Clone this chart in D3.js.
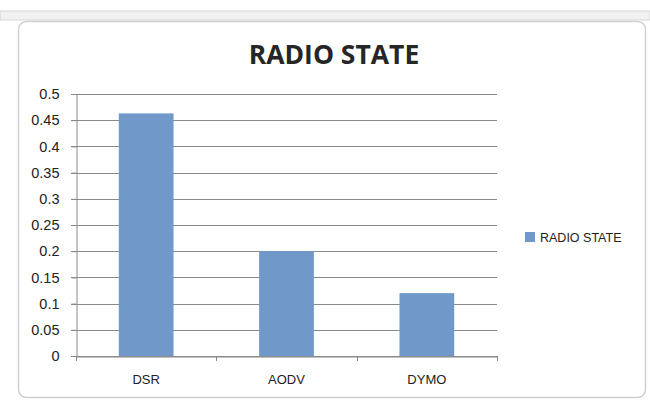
<!DOCTYPE html>
<html>
<head>
<meta charset="utf-8">
<script src="https://cdn.jsdelivr.net/npm/d3@7/dist/d3.min.js"></script>
<style>
  html, body { margin: 0; padding: 0; background: #fff; }
  svg { display: block; }
  text { font-family: "Liberation Sans Narrow", "Open Sans", "DejaVu Sans Condensed", sans-serif; }
</style>
</head>
<body>
<svg id="chart" width="650" height="403"></svg>
<script>
// Radio state values per routing protocol
const categories = ["DSR", "AODV", "DYMO"];
const radioState = [0.463, 0.2, 0.12];
const yTicks = [0, 0.05, 0.1, 0.15, 0.2, 0.25, 0.3, 0.35, 0.4, 0.45, 0.5];
const seriesName = "RADIO STATE";
const chartTitle = "RADIO STATE";

const svg = d3.select("#chart");
const W = 650, H = 403;

// spreadsheet header strip behind the chart object
svg.append("rect").attr("x", 0).attr("y", 11).attr("width", W).attr("height", 9)
  .attr("fill", "#f1f1f1").attr("stroke", "#d6d6d6");

// chart object frame
svg.append("rect").attr("x", 18.5).attr("y", 21.5).attr("width", 627).attr("height", 376)
  .attr("rx", 8).attr("fill", "#fff").attr("stroke", "#cfcfcf").attr("stroke-width", 1.5);

const plot = { left: 76, right: 497, top: 94, bottom: 356 };

const x = d3.scaleBand().domain(categories).range([plot.left, plot.right])
  .paddingInner(0.61).paddingOuter(0.305);
const xOuter = d3.scaleBand().domain(categories).range([plot.left, plot.right]);
const y = d3.scaleLinear().domain([0, 0.5]).range([plot.bottom, plot.top]);

// horizontal gridlines
svg.append("g").selectAll("line").data(yTicks).join("line")
  .attr("x1", plot.left - 5).attr("x2", plot.right)
  .attr("y1", d => Math.round(y(d)) + 0.5).attr("y2", d => Math.round(y(d)) + 0.5)
  .attr("stroke", "#8a8a8a").attr("stroke-width", 1);

// value axis
const yAxis = svg.append("g").attr("transform", `translate(${plot.left + 0.5},0)`)
  .call(d3.axisLeft(y).tickValues(yTicks).tickSize(5).tickPadding(12)
    .tickFormat(d => d3.format("")(+d.toFixed(2))));
yAxis.select(".domain").attr("stroke", "#8a8a8a");
yAxis.selectAll(".tick line").attr("stroke", "#8a8a8a");
yAxis.selectAll(".tick text").attr("fill", "#222").attr("font-size", 14.5)
  .style("font-family", "'Liberation Sans', 'Open Sans', sans-serif");

// bars
svg.append("g").selectAll("rect").data(radioState).join("rect")
  .attr("x", (d, i) => x(categories[i]))
  .attr("width", x.bandwidth())
  .attr("y", d => y(d))
  .attr("height", d => y(0) - y(d))
  .attr("fill", "#7099c9");

// category axis
const xAxis = svg.append("g").attr("transform", `translate(0,${plot.bottom + 0.5})`)
  .call(d3.axisBottom(xOuter).tickSize(0).tickPadding(18));
xAxis.select(".domain").attr("stroke", "#8a8a8a");
xAxis.selectAll(".tick text").attr("fill", "#222").attr("font-size", 13)
  .style("font-family", "'Liberation Sans', 'Open Sans', sans-serif");
// category separators
svg.append("g").selectAll("line")
  .data(categories.map(c => xOuter(c)).concat([plot.right]))
  .join("line")
  .attr("x1", d => Math.round(d) + 0.5).attr("x2", d => Math.round(d) + 0.5)
  .attr("y1", plot.bottom).attr("y2", plot.bottom + 5)
  .attr("stroke", "#8a8a8a");

// title
svg.append("text").attr("x", 334).attr("y", 64).attr("text-anchor", "middle")
  .attr("font-size", 26.5).attr("font-weight", "bold").attr("fill", "#262626")
  .text(chartTitle);

// legend
const lg = svg.append("g").attr("transform", "translate(525,232)");
lg.append("rect").attr("width", 10).attr("height", 10).attr("fill", "#7099c9");
lg.append("text").attr("x", 15).attr("y", 9.5).attr("font-size", 12.5).attr("fill", "#222")
  .style("font-family", "'Liberation Sans', 'Open Sans', sans-serif")
  .text(seriesName);
</script>
</body>
</html>
